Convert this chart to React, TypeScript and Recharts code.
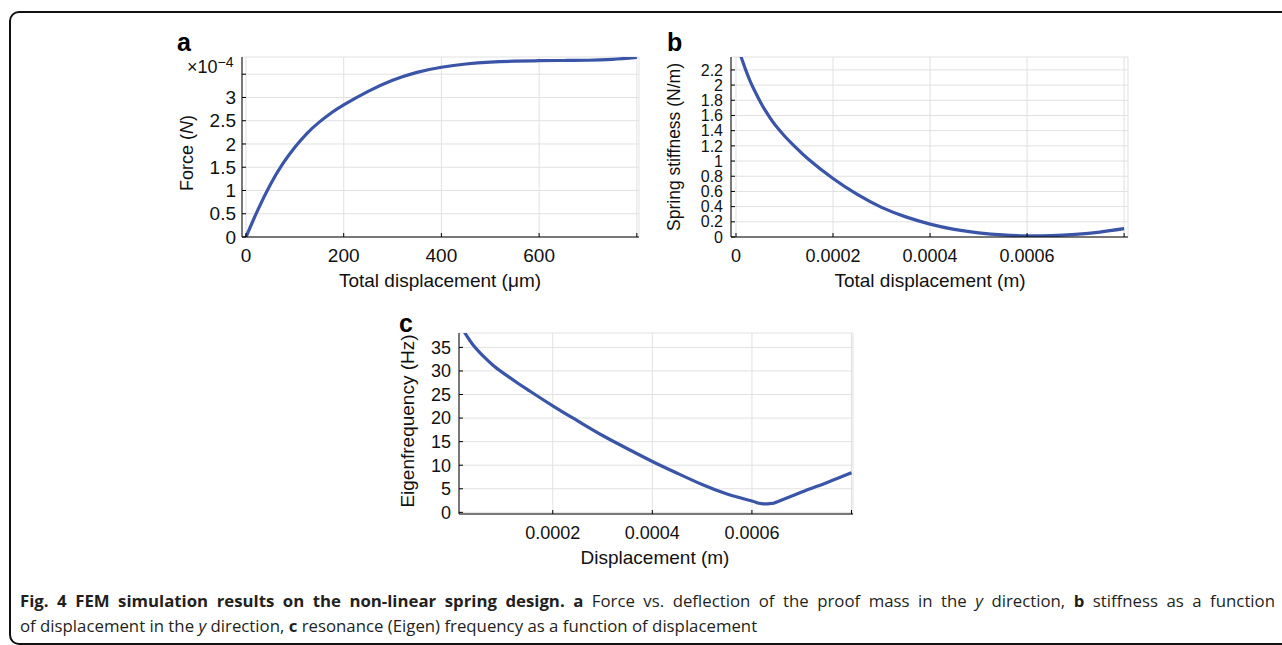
import React from 'react';
import { LineChart, Line, XAxis, YAxis, CartesianGrid } from 'recharts';

// panel a: force vs total displacement (um), force in units of 1e-4 N
const forceX = [0, 25, 50, 75, 100, 125, 150, 175, 200, 250, 300, 350, 400, 450, 500, 550, 600, 650, 700, 750, 800];
const forceY = [0, 0.6, 1.13, 1.57, 1.93, 2.23, 2.47, 2.67, 2.84, 3.13, 3.37, 3.54, 3.65, 3.72, 3.76, 3.78, 3.79, 3.795, 3.8, 3.82, 3.86];
const forceXTicks = [0, 200, 400, 600, 800];
const forceYTicks = [0, 0.5, 1, 1.5, 2, 2.5, 3, 3.5];

// panel b: spring stiffness (N/m) vs total displacement (m)
const stiffX = [0, 0.00001, 0.00002, 0.00003, 0.00004, 0.00005, 0.00006, 0.00007, 0.00008, 0.0001, 0.00012, 0.00015, 0.0002, 0.00025, 0.0003, 0.00035, 0.0004, 0.00045, 0.0005, 0.00055, 0.0006, 0.00065, 0.0007, 0.00075, 0.0008];
const stiffY = [2.56, 2.38, 2.2, 2.04, 1.905, 1.78, 1.67, 1.57, 1.48, 1.33, 1.2, 1.02, 0.77, 0.56, 0.39, 0.265, 0.17, 0.1, 0.055, 0.027, 0.015, 0.018, 0.035, 0.065, 0.11];
const stiffXTicks = [0, 0.0002, 0.0004, 0.0006, 0.0008];
const stiffYTicks = [0, 0.2, 0.4, 0.6, 0.8, 1, 1.2, 1.4, 1.6, 1.8, 2, 2.2];

// panel c: eigenfrequency (Hz) vs displacement (m)
const eigenX = [0.00002, 0.00003, 0.00004, 0.00005, 0.00006, 0.00008, 0.0001, 0.00013, 0.00015, 0.0002, 0.00025, 0.0003, 0.00035, 0.0004, 0.00045, 0.0005, 0.00055, 0.0006, 0.00061, 0.00062, 0.00063, 0.00064, 0.00065, 0.0007, 0.00075, 0.0008];
const eigenY = [38.7, 37.0, 35.5, 34.3, 33.2, 31.2, 29.6, 27.4, 26.0, 22.6, 19.4, 16.3, 13.5, 10.8, 8.3, 5.9, 3.9, 2.4, 2.05, 1.85, 1.8, 1.9, 2.2, 4.3, 6.3, 8.4];
const eigenXTicks = [0.0002, 0.0004, 0.0006, 0.0008];
const eigenYTicks = [0, 5, 10, 15, 20, 25, 30, 35];

const LINE = '#3a55a8';
const AXIS_FONT = '"Liberation Sans", Arial, sans-serif';

type PanelProps = {
  plotLeft: number;
  plotTop: number;
  plotW: number;
  plotH: number;
  xs: number[];
  ys: number[];
  xDomain: [number, number];
  yDomain: [number, number];
  xTicks: number[];
  yTicks: number[];
  fmtX: (v: number) => string;
  fmtY: (v: number) => string;
  xFont?: number;
  yFont?: number;
  yGap?: number;
};

function Panel(p: PanelProps) {
  const yW = 60, mt = 10, mr = 10, xH = 40;
  const data = p.xs.map((x, i) => ({ x, y: p.ys[i] }));
  const frame = { stroke: '#000' };
  const xTick = { fontSize: p.xFont ?? 18, fill: '#111', fontFamily: AXIS_FONT };
  const yTick = { fontSize: p.yFont ?? 18, fill: '#111', fontFamily: AXIS_FONT };
  return (
    <div style={{ position: 'absolute', left: p.plotLeft - yW, top: p.plotTop - mt }}>
      <LineChart width={p.plotW + yW + mr} height={mt + p.plotH + xH} data={data} margin={{ top: mt, right: mr, bottom: 0, left: 0 }}>
        <CartesianGrid stroke="#e1e1e1" />
        <XAxis type="number" dataKey="x" domain={p.xDomain} ticks={p.xTicks} allowDataOverflow interval={0}
          height={xH} tickSize={-4} tickMargin={16} tickFormatter={p.fmtX} axisLine={frame} tickLine={frame} tick={xTick} />
        <XAxis xAxisId="top" orientation="top" type="number" domain={p.xDomain} ticks={p.xTicks} allowDataOverflow interval={0}
          height={0} tickSize={-4} tick={false} axisLine={frame} tickLine={frame} />
        <YAxis type="number" domain={p.yDomain} ticks={p.yTicks} allowDataOverflow interval={0}
          width={yW} tickSize={-4} tickMargin={p.yGap ?? 12} tickFormatter={p.fmtY} axisLine={frame} tickLine={frame} tick={yTick} />
        <YAxis yAxisId="right" orientation="right" type="number" domain={p.yDomain} ticks={p.yTicks} allowDataOverflow interval={0}
          width={0} tickSize={-4} tick={false} axisLine={frame} tickLine={frame} />
        <Line type="natural" dataKey="y" stroke={LINE} strokeWidth={3.2} dot={false} isAnimationActive={false} />
      </LineChart>
    </div>
  );
}

function Txt({ x, y, children, rotate, style }: { x: number; y: number; children: React.ReactNode; rotate?: boolean; style?: React.CSSProperties }) {
  return (
    <div style={{
      position: 'absolute', left: x, top: y, whiteSpace: 'nowrap',
      transform: rotate ? 'translate(-50%, -50%) rotate(-90deg)' : 'translate(-50%, -50%)',
      fontFamily: AXIS_FONT, fontSize: 19, color: '#111', lineHeight: 1, ...style,
    }}>
      {children}
    </div>
  );
}

const letter: React.CSSProperties = { position: 'absolute', fontFamily: AXIS_FONT, fontWeight: 700, fontSize: 25, lineHeight: 1, color: '#000' };

export default function App() {
  const fmtM = (v: number) => (v === 0 ? '0' : v >= 0.0008 ? '' : v.toFixed(4));
  return (
    <div style={{ position: 'fixed', left: 0, top: 0, width: 1282, height: 645, overflow: 'hidden', background: '#fff' }}>
      <div style={{ position: 'absolute', left: 9, top: 11, width: 1300, height: 634, boxSizing: 'border-box', border: '2px solid #111', borderRadius: 10 }} />

      <Panel plotLeft={242} plotTop={57} plotW={397} plotH={180} xs={forceX} ys={forceY}
        xDomain={[-8.2, 804.5]} yDomain={[0, 3.87]} xTicks={forceXTicks} yTicks={forceYTicks}
        xFont={19} yFont={19} yGap={10}
        fmtX={(v) => (v >= 800 ? '' : String(v))} fmtY={(v) => (v === 3.5 ? '' : String(v))} />
      <Panel plotLeft={731} plotTop={57} plotW={397} plotH={180} xs={stiffX} ys={stiffY}
        xDomain={[-0.0000103, 0.000808]} yDomain={[0, 2.37]} xTicks={stiffXTicks} yTicks={stiffYTicks}
        yFont={16}
        fmtX={fmtM} fmtY={(v) => String(Number(v.toFixed(1)))} />
      <Panel plotLeft={459} plotTop={333} plotW={394} plotH={181} xs={eigenX} ys={eigenY}
        xDomain={[0.0000117, 0.000803]} yDomain={[-0.35, 38.05]} xTicks={eigenXTicks} yTicks={eigenYTicks}
        fmtX={fmtM} fmtY={(v) => String(v)} />

      <div style={{ ...letter, left: 177, top: 30 }}>a</div>
      <div style={{ ...letter, left: 667, top: 30 }}>b</div>
      <div style={{ ...letter, left: 399, top: 311 }}>c</div>

      <div style={{ position: 'absolute', left: 187, top: 55, fontFamily: AXIS_FONT, fontSize: 18, lineHeight: 1, color: '#111', whiteSpace: 'nowrap' }}>
        ×10<sup style={{ fontSize: 14, verticalAlign: 6 }}>−4</sup>
      </div>

      <Txt x={440} y={280}>Total displacement (μm)</Txt>
      <Txt x={930} y={280}>Total displacement (m)</Txt>
      <Txt x={655} y={557}>Displacement (m)</Txt>
      <Txt x={187} y={153} rotate style={{ fontSize: 18 }}>Force (<i>N</i>)</Txt>
      <Txt x={675} y={147} rotate style={{ fontSize: 17.5 }}>Spring stiffness (N/m)</Txt>
      <Txt x={407} y={421} rotate>Eigenfrequency (Hz)</Txt>

      <div style={{ position: 'absolute', left: 20, top: 588, width: 1255, fontFamily: '"Open Sans", sans-serif', fontSize: 16.8, lineHeight: '25px', color: '#231f20' }}>
        <div style={{ textAlign: 'justify', textAlignLast: 'justify' }}>
          <b>Fig. 4 FEM simulation results on the non-linear spring design.</b> <b>a</b> Force vs. deflection of the proof mass in the <i>y</i> direction, <b>b</b> stiffness as a function
        </div>
        <div style={{ whiteSpace: 'nowrap' }}>of displacement in the <i>y</i> direction, <b>c</b> resonance (Eigen) frequency as a function of displacement</div>
      </div>
    </div>
  );
}
